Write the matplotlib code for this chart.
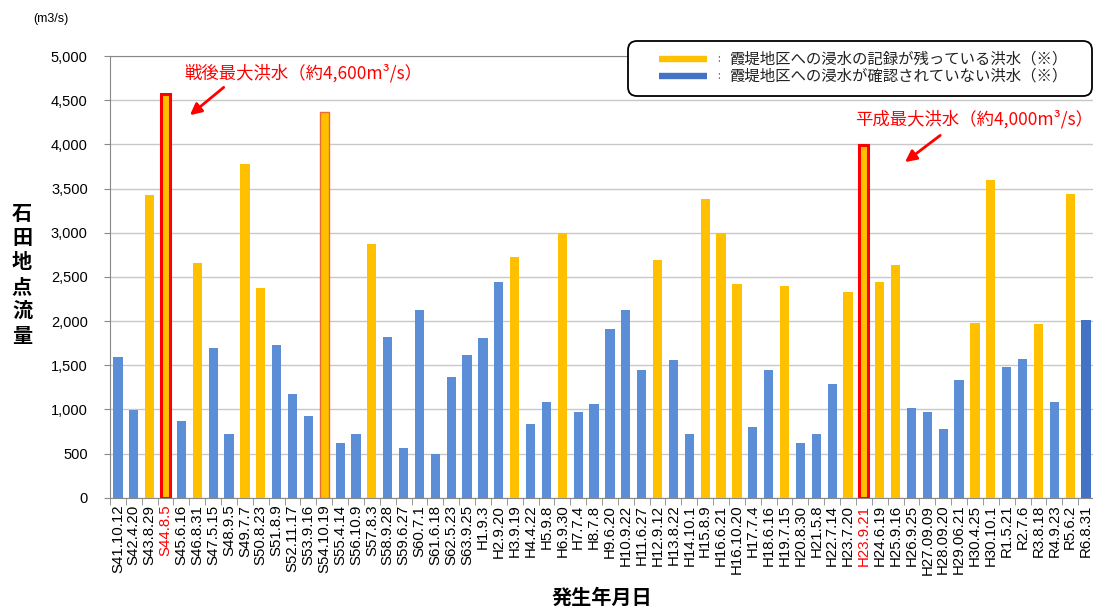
import numpy as np
import matplotlib
matplotlib.use("Agg")
import matplotlib.pyplot as plt
from matplotlib.lines import Line2D
from matplotlib.patches import FancyBboxPatch
from matplotlib.transforms import IdentityTransform

# flood events at Ishida gauge: date label, peak discharge (m3/s),
# 1 = inundation of kasumi-tei district on record, 0 = not confirmed
DATES = ["S41.10.12", "S42.4.20", "S43.8.29", "S44.8.5", "S45.6.16", "S46.8.31",
         "S47.5.15", "S48.9.5", "S49.7.7", "S50.8.23", "S51.8.9", "S52.11.17",
         "S53.9.16", "S54.10.19", "S55.4.14", "S56.10.9", "S57.8.3", "S58.9.28",
         "S59.6.27", "S60.7.1", "S61.6.18", "S62.5.23", "S63.9.25", "H1.9.3",
         "H2.9.20", "H3.9.19", "H4.4.22", "H5.9.8", "H6.9.30", "H7.7.4",
         "H8.7.8", "H9.6.20", "H10.9.22", "H11.6.27", "H12.9.12", "H13.8.22",
         "H14.10.1", "H15.8.9", "H16.6.21", "H16.10.20", "H17.7.4", "H18.6.16",
         "H19.7.15", "H20.8.30", "H21.5.8", "H22.7.14", "H23.7.20", "H23.9.21",
         "H24.6.19", "H25.9.16", "H26.9.25", "H27.09.09", "H28.09.20", "H29.06.21",
         "H30.4.25", "H30.10.1", "R1.5.21", "R2.7.6", "R3.8.18", "R4.9.23",
         "R5.6.2", "R6.8.31"]
FLOW = [1590, 990, 3430, 4570, 870, 2655, 1700, 720, 3780, 2370, 1730, 1170,
        920, 4365, 615, 720, 2875, 1820, 565, 2120, 495, 1370, 1610, 1810,
        2445, 2725, 830, 1085, 2995, 965, 1060, 1910, 2120, 1450, 2695, 1560,
        725, 3380, 2995, 2420, 795, 1445, 2400, 620, 720, 1290, 2330, 3990,
        2445, 2635, 1020, 970, 780, 1335, 1980, 3600, 1480, 1565, 1965, 1085,
        3440, 2010]
INUNDATED = [0, 0, 1, 1, 0, 1, 0, 0, 1, 1, 0, 0,
             0, 1, 0, 0, 1, 0, 0, 0, 0, 0, 0, 0,
             0, 1, 0, 0, 1, 0, 0, 0, 0, 0, 1, 0,
             0, 1, 1, 1, 0, 0, 1, 0, 0, 0, 1, 1,
             1, 1, 0, 0, 0, 0, 1, 1, 0, 0, 1, 0,
             1, 0]
MAX_EVENTS = ["S44.8.5", "H23.9.21"]   # postwar max / Heisei max
OUTLINED = ["S54.10.19"]
PRELIM = ["R6.8.31"]
LEGEND_LABELS = ["霞堤地区への浸水の記録が残っている洪水（※）",
                 "霞堤地区への浸水が確認されていない洪水（※）"]

YELLOW, BLUE, BLUE_DK, RED = "#FFC000", "#5B8ED6", "#4472C4", "#FF0000"
JP = ["Noto Sans CJK JP", "DejaVu Sans"]
LAT = ["Liberation Sans", "DejaVu Sans"]
W, H = 1093, 610

fig = plt.figure(figsize=(W / 100, H / 100), dpi=100)
ax = fig.add_axes([110 / W, 112.3 / H, 984 / W, 441.7 / H])

x = np.arange(len(DATES))
cols = []
for d, k in zip(DATES, INUNDATED):
    if d in PRELIM:
        cols.append(BLUE_DK)
    else:
        cols.append(YELLOW if k else BLUE)
bars = ax.bar(x, FLOW, width=0.58, color=cols, zorder=3)
for b, d in zip(bars, DATES):
    if d in MAX_EVENTS:
        b.set_edgecolor(RED); b.set_linewidth(2.2)
    elif d in OUTLINED:
        b.set_edgecolor("#EE6A30"); b.set_linewidth(1.0)

ax.set_xlim(-0.5, len(DATES) - 0.5)
ax.set_ylim(0, 5000)
ax.set_yticks(np.arange(0, 5001, 500))
ax.set_yticklabels([f"{v:,}" for v in range(0, 5001, 500)], family=LAT, fontsize=10.5)
ax.yaxis.grid(True, color="#C8C8C8", lw=1.0, zorder=0)
ax.set_axisbelow(True)
ax.tick_params(axis="y", length=4, color="#888888", pad=12)

ax.set_xticks(x)
ax.set_xticklabels(DATES, rotation=90, family=LAT, fontsize=10.8)
for lab in ax.get_xticklabels():
    if lab.get_text() in MAX_EVENTS:
        lab.set_color(RED)
ax.tick_params(axis="x", which="major", length=0, pad=5)
ax.set_xticks(np.arange(-0.5, len(DATES), 1.0), minor=True)
ax.tick_params(axis="x", which="minor", length=5, color="#888888")

for s in ("left", "bottom", "top"):
    ax.spines[s].set_color("#888888")
ax.spines["right"].set_visible(False)

fig.text(33 / W, 1 - 19 / H, "(m3/s)", family=LAT, fontsize=9, va="center")
fig.text(22 / W, 1 - 274 / H, "\n".join("石田地点流量"), family=JP,
         fontsize=14.5, fontweight="bold", ha="center", va="center", linespacing=1.2)
fig.text(602 / W, 1 - 597 / H, "発生年月日", family=JP, fontsize=14.5,
         fontweight="bold", ha="center", va="center")

# annotations for the two largest floods
arrow = dict(arrowstyle="-|>", color=RED, lw=2, mutation_scale=17)
ax.annotate("", xy=(4.4, 4310), xytext=(6.8, 4665), arrowprops=arrow)
ax.text(11.7, 4810, "戦後最大洪水（約4,600m³/s）", family=JP, fontsize=12.5,
        color=RED, ha="center", va="center")
ax.annotate("", xy=(49.45, 3780), xytext=(51.95, 4120), arrowprops=arrow)
ax.text(53.95, 4280, "平成最大洪水（約4,000m³/s）", family=JP, fontsize=12.5,
        color=RED, ha="center", va="center")

# legend box (drawn in pixel coords, rounded frame like the original)
px = IdentityTransform()
fig.add_artist(FancyBboxPatch((628, H - 96), 464, 55, transform=px,
                              boxstyle="round,pad=0,rounding_size=9",
                              fc="white", ec="black", lw=1.3, zorder=5))
for yy, c, lab in zip((H - 59, H - 76), (YELLOW, BLUE_DK), LEGEND_LABELS):
    fig.add_artist(Line2D([659, 707], [yy, yy], transform=px, color=c, lw=4.6,
                          solid_capstyle="butt", zorder=6))
    fig.text(719, yy, ":", transform=px, family=JP, fontsize=7, color="#555555",
             ha="center", va="center", zorder=6)
    fig.text(730, yy, lab, transform=px, family=JP, fontsize=11.1, color="#222222",
             va="center", zorder=6)

fig.savefig("out.png", dpi=100)
